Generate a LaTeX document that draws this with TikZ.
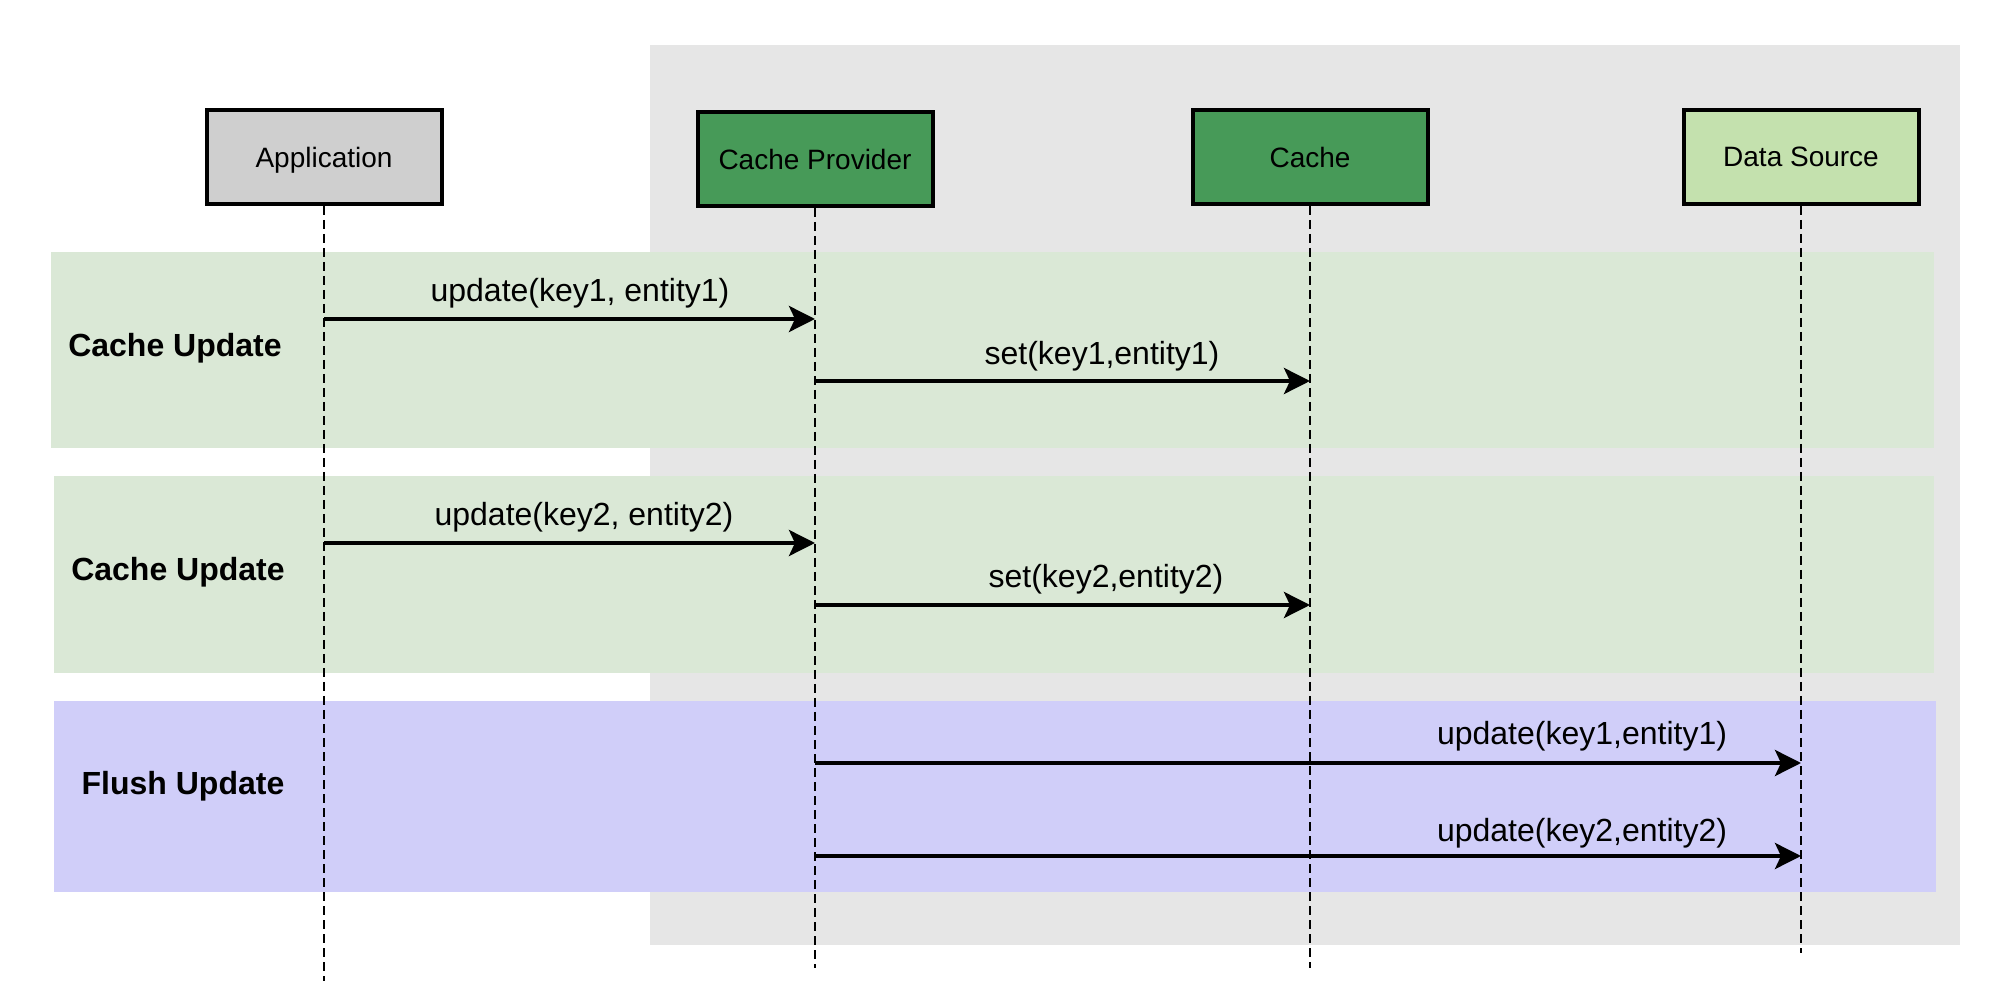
\documentclass[tikz,border=0pt]{standalone}
\usepackage{fontspec}
\setmainfont{Liberation Sans}
\usetikzlibrary{arrows.meta}
\definecolor{bggray}{HTML}{E6E6E6}
\definecolor{bandgreen}{HTML}{DAE8D6}
\definecolor{bandpurple}{HTML}{D0CEF9}
\definecolor{appgray}{HTML}{CFCFCF}
\definecolor{provgreen}{HTML}{479A58}
\definecolor{dsgreen}{HTML}{C4E1AE}
\tikzset{
  actor/.style={draw=black, line width=2pt, minimum width=117.5pt, minimum height=47pt, inner sep=0pt, text depth=0pt, font=\fontsize{14}{17}\selectfont},
  life/.style={draw=black, line width=1.3pt, dash pattern=on 4.5pt off 2.5pt},
  msg/.style={draw=black, line width=2pt, -{Stealth[length=13pt,width=13pt,inset=3pt]}},
  msglabel/.style={font=\fontsize{16}{19}\selectfont, inner sep=0pt},
  bandlabel/.style={font=\bfseries\fontsize{16}{19}\selectfont, inner sep=0pt},
}
\begin{document}
\begin{tikzpicture}[x=0.5pt,y=-0.5pt]
\useasboundingbox (0,0) rectangle (1998,988);
% background region
\fill[bggray] (650,45) rectangle (1960,945);
% bands
\fill[bandgreen] (51,252) rectangle (1934,448);
\fill[bandgreen] (54,476) rectangle (1934,673);
\fill[bandpurple] (54,701) rectangle (1936,892);
% band labels
\node[bandlabel] (b1) at (175,348) {Cache Update};
\node[bandlabel] (b2) at (178,572) {Cache Update};
\node[bandlabel] (b3) at (183,786) {Flush Update};
% actors
\node[actor, fill=appgray] (app) at (324,157) {Application};
\node[actor, fill=provgreen] (prov) at (815,159) {Cache Provider};
\node[actor, fill=provgreen] (cache) at (1310,157) {Cache};
\node[actor, fill=dsgreen] (ds) at (1801,157) {Data Source};
% lifelines
\coordinate (appEnd) at (324,981);
\coordinate (provEnd) at (815,968);
\coordinate (cacheEnd) at (1310,968);
\coordinate (dsEnd) at (1801,953);
\draw[life] (app.south) -- (appEnd);
\draw[life] (prov.south) -- (provEnd);
\draw[life] (cache.south) -- (cacheEnd);
\draw[life] (ds.south) -- (dsEnd);
% message rows
\coordinate (r1) at (0,319);
\coordinate (r2) at (0,381);
\coordinate (r3) at (0,543);
\coordinate (r4) at (0,605);
\coordinate (r5) at (0,763);
\coordinate (r6) at (0,856);
\draw[msg] (app |- r1) -- (prov |- r1);
\draw[msg] (prov |- r2) -- (cache |- r2);
\draw[msg] (app |- r3) -- (prov |- r3);
\draw[msg] (prov |- r4) -- (cache |- r4);
\draw[msg] (prov |- r5) -- (ds |- r5);
\draw[msg] (prov |- r6) -- (ds |- r6);
% message labels
\node[msglabel] (l1) at (580,293) {update(key1, entity1)};
\node[msglabel] (l2) at (1102,356) {set(key1,entity1)};
\node[msglabel] (l3) at (584,517) {update(key2, entity2)};
\node[msglabel] (l4) at (1106,579) {set(key2,entity2)};
\node[msglabel] (l5) at (1582,736) {update(key1,entity1)};
\node[msglabel] (l6) at (1582,833) {update(key2,entity2)};
\end{tikzpicture}
\end{document}
